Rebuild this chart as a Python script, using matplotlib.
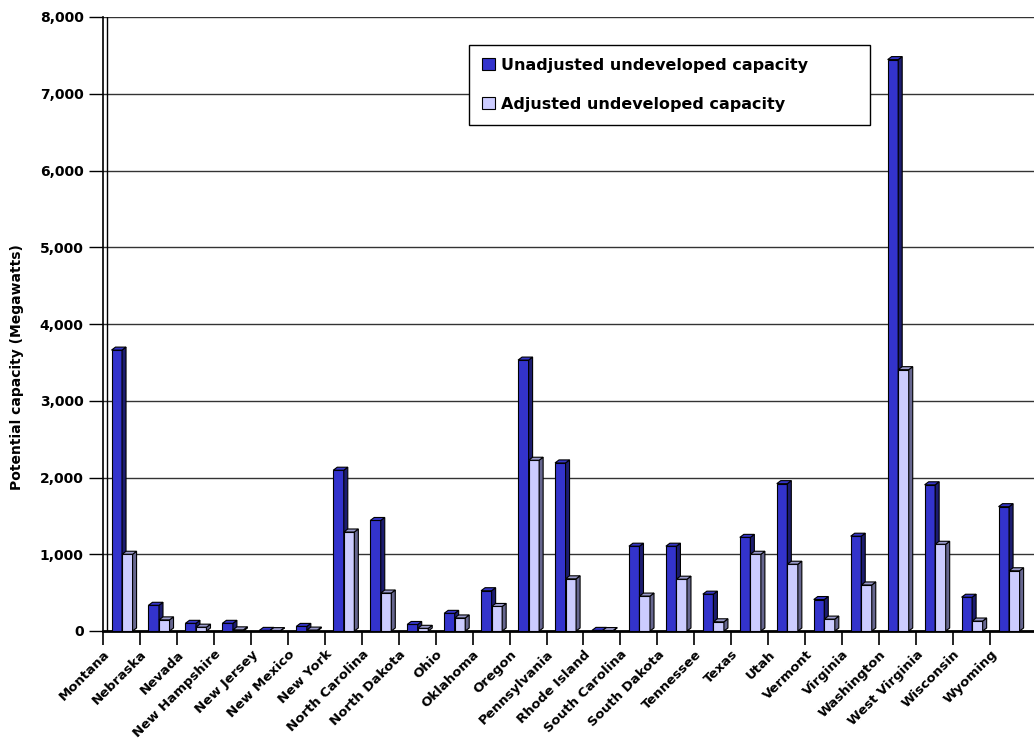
import matplotlib.pyplot as plt
from matplotlib.ticker import FuncFormatter, FixedLocator
from matplotlib.transforms import ScaledTranslation

states = ["Montana", "Nebraska", "Nevada", "New Hampshire", "New Jersey",
          "New Mexico", "New York", "North Carolina", "North Dakota", "Ohio",
          "Oklahoma", "Oregon", "Pennsylvania", "Rhode Island", "South Carolina",
          "South Dakota", "Tennessee", "Texas", "Utah", "Vermont", "Virginia",
          "Washington", "West Virginia", "Wisconsin", "Wyoming"]

unadjusted = [3660, 335, 100, 100, 8, 60, 2095, 1440, 85, 230,
              525, 3530, 2190, 8, 1105, 1105, 480, 1220, 1920, 410,
              1235, 7445, 1905, 440, 1620]

adjusted = [1000, 145, 50, 15, 5, 12, 1290, 495, 35, 170,
            320, 2225, 680, 6, 455, 675, 120, 1000, 870, 155,
            600, 3405, 1130, 130, 785]

legend_labels = ["Unadjusted undeveloped capacity", "Adjusted undeveloped capacity"]

blue = ["#3333CC", "#1C1C70", "#3535C8"]      # front, side, top
lav = ["#CCCCFF", "#66668F", "#9B9BCC"]

fig = plt.figure(figsize=(10.34, 7.46), dpi=100)
ax = fig.add_axes([103 / 1034, 115 / 746, 931 / 1034, 614 / 746])

n = len(states)
dx = 4 / 36.96       # depth of the fake 3D, in category units
dy = 3 * 8000 / 614  # depth in data units

def draw_3d(x0, vals, cols, width):
    bars = ax.bar(x0, vals, width=width, align="edge", color=cols[0],
                  edgecolor="black", linewidth=0.8, zorder=3)
    for b in bars:
        x = b.get_x()
        w = b.get_width()
        h = b.get_height()
        # side face
        ax.fill([x + w, x + w + dx, x + w + dx, x + w],
                [0, dy, h + dy, h], color=cols[1], edgecolor="black",
                linewidth=0.8, zorder=3)
        # top face
        ax.fill([x, x + dx, x + w + dx, x + w],
                [h, h + dy, h + dy, h], color=cols[2], edgecolor="black",
                linewidth=0.8, zorder=3)
    return bars

idx = list(range(n))
w = 0.285
b1 = draw_3d([i + 0.23 for i in idx], unadjusted, blue, w)
b2 = draw_3d([i + 0.23 + w for i in idx], adjusted, lav, w)

ax.set_xlim(0, 931 / 36.96)
ax.set_ylim(0, 8000)

# y axis
ax.set_yticks(range(0, 8001, 1000))
ax.yaxis.set_major_formatter(FuncFormatter(lambda v, p: f"{int(v):,}"))
ax.tick_params(axis="y", direction="out", length=10, width=1, pad=4,
               labelsize=10)
for t in ax.get_yticklabels():
    t.set_fontweight("bold")
ax.grid(axis="y", color="#333333", linewidth=1.0, zorder=0)
ax.set_axisbelow(True)
ax.axvline(dx, color="black", linewidth=1, zorder=2)

# x axis: ticks at category boundaries, labels at centres
ax.xaxis.set_major_locator(FixedLocator([i for i in range(n)]))
ax.xaxis.set_minor_locator(FixedLocator([i + 0.5 for i in idx]))
ax.set_xticklabels([""] * n)
ax.set_xticklabels(states, minor=True)
ax.tick_params(axis="x", which="major", direction="out", length=10, width=1.2)
ax.tick_params(axis="x", which="minor", length=0, pad=12, labelsize=9.5)
offset = ScaledTranslation(-9 / 100, 0, fig.dpi_scale_trans)
for t in ax.get_xticklabels(minor=True):
    t.set_rotation(45)
    t.set_ha("right")
    t.set_va("top")
    t.set_fontweight("bold")
    t.set_transform(t.get_transform() + offset)

ax.spines["top"].set_visible(False)
ax.spines["right"].set_visible(False)
ax.spines["bottom"].set_linewidth(2)
ax.spines["left"].set_linewidth(1.2)

ax.set_ylabel("Potential capacity (Megawatts)", fontsize=10, fontweight="bold")
ax.yaxis.set_label_coords(-103 / 931 + 24 / 931, 0.43)

leg = fig.legend([b1, b2], legend_labels,
                 bbox_to_anchor=(461 / 1034, 620 / 746, 417 / 1034, 89 / 746),
                 loc="upper left", mode="expand", fancybox=False,
                 edgecolor="black", framealpha=1, handlelength=0.8,
                 handleheight=0.8, handletextpad=0.4, labelspacing=1.5,
                 borderpad=0.8, prop={"weight": "bold", "size": 11.5})
leg.get_frame().set_linewidth(1)

plt.savefig("out.png", dpi=100)
